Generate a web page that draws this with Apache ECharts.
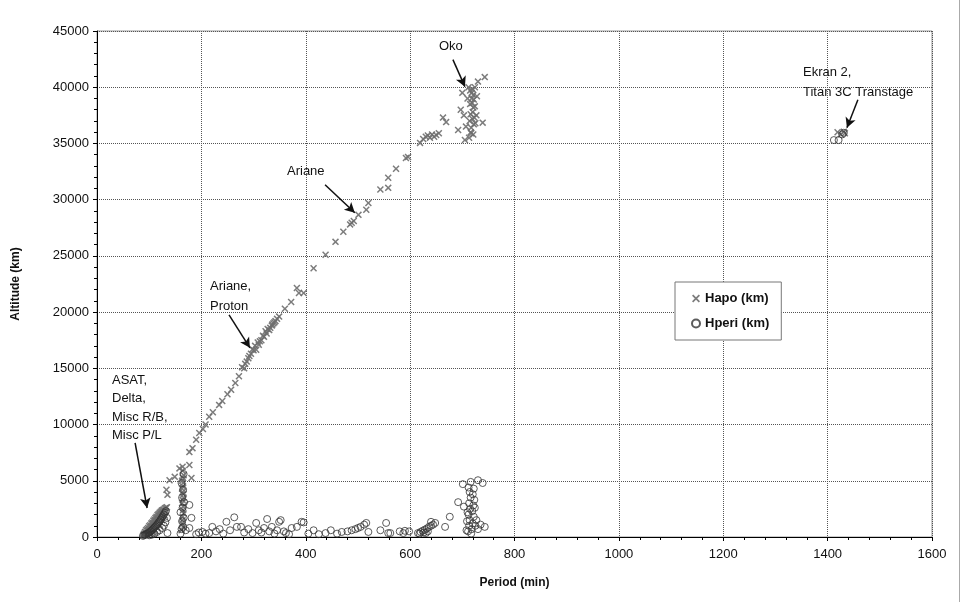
<!DOCTYPE html>
<html>
<head>
<meta charset="utf-8">
<script src="https://cdn.jsdelivr.net/npm/echarts@6/dist/echarts.min.js"></script>
<style>
  html, body { margin: 0; padding: 0; background: #fff; }
  #chart { width: 961px; height: 602px; }
</style>
</head>
<body>
<div id="chart"></div>
<script>
// period (min) / altitude (km) pairs
var hapo = [
    // ASAT, Delta, misc LEO cluster
    [89,150],[90,300],[91,250],[92,450],[93,400],[94,600],[95,350],[96,700],[97,550],[98,800],
    [99,650],[100,950],[101,750],[102,1050],[103,900],[104,1200],[105,1000],[106,1300],[107,1150],
    [108,1450],[109,1250],[110,1550],[111,1400],[112,1700],[113,1500],[114,1800],[115,1650],
    [116,1950],[117,1750],[118,2050],[119,1900],[120,2150],[121,2000],[122,2250],[123,2100],
    [124,2350],[125,2200],[126,2400],[128,2450],[130,2550],[132,2600],[134,2650],
    [105,300],[110,500],[115,800],[120,1100],[125,1500],[130,1900],
    [95,150],[100,300],[108,700],[112,1000],[118,1400],[122,1700],[127,2000],[131,2300],
    // column near 165 min
    [162,600],[163,1200],[164,1800],[165,2400],[163,3000],[166,3500],[164,4000],[165,4500],
    [163,5000],[166,5500],[164,5900],[165,900],[164,1500],[166,2100],[165,2700],[164,3300],
    [166,3800],[163,4300],[165,4800],[164,5300],
    // transfer orbits
    [133,4200],[135,3750],[139,5050],[149,5350],[158,6100],[164,6250],[177,6400],[181,5250],
    [177,7550],[183,7900],[190,8650],[196,9250],[203,9600],[208,10000],[215,10700],[222,11100],
    [234,11750],[240,12100],[250,12700],[257,13100],[265,13700],[272,14300],[278,15100],
    [284,15400],[290,15900],[295,16300],[300,16600],[305,16650],[310,17100],[315,17500],
    [320,17800],[325,18100],[330,18400],[335,18800],[338,19000],[342,19200],[345,19400],
    [349,19600],[282,15000],[287,15600],[292,16100],[298,16700],[303,17000],[308,17300],
    [312,17400],[318,17900],[323,18300],[327,18500],[332,18600],[336,18900],[340,19100],
    [360,20300],[372,20900],[383,22150],[387,21700],[396,21700],[415,23900],[438,25100],
    [457,26250],[472,27150],[485,27800],[488,27950],[492,28100],[501,28650],[516,29100],
    [520,29700],[543,30900],[558,31050],[558,31950],[573,32750],[592,33700],[596,33800],
    [619,35050],[625,35400],[630,35600],[634,35700],[638,35500],[642,35800],[646,35600],
    [650,35750],[655,35900],
    // Oko
    [663,37300],[669,36900],[692,36200],[697,38000],[700,39500],[703,37500],[705,35300],
    [707,36500],[710,39000],[712,40000],[714,37000],[715,38500],[716,36000],[718,39500],
    [720,37800],[721,35800],[722,38900],[724,40000],[725,36800],[727,37500],[730,40500],
    [739,36850],[743,40900],[728,39200],[713,35500],
    [717,36400],[719,37200],[721,38200],[718,39000],[720,39800],[722,36700],[716,37600],
    [719,38600],[723,37300],[717,35900],[721,39300],[715,39700],[724,38300],
    // Ekran 2, Titan 3C Transtage
    [1419,36000],[1425,35800],[1431,36050],[1433,35900]
];

var hperi = [
    [88,100],[90,150],[92,200],[94,250],[96,300],[98,350],[100,400],[102,500],[104,550],
    [106,650],[108,750],[110,850],[112,950],[114,1050],[116,1150],[118,1300],[120,1400],
    [122,1550],[124,1700],[126,1850],[128,2000],[130,2150],[132,2300],[100,150],[105,200],
    [110,300],[115,450],[120,600],[125,800],[128,1000],[131,1300],[134,1700],[135,350],
    [160,300],[162,700],[165,900],[163,1400],[166,1700],[160,2200],[164,2600],[167,3100],
    [163,3500],[165,4200],[162,4800],[166,5600],[177,2850],[181,1700],[177,800],[170,600],
    [190,250],[195,400],[202,450],[208,300],[215,350],[221,900],[228,500],[235,700],[242,300],
    [248,1350],[255,600],[263,1750],[268,900],[276,900],[282,400],[290,700],[298,350],
    [305,1250],[310,600],[315,400],[320,800],[326,1600],[330,500],[335,900],[340,300],
    [345,600],[349,1350],[352,1500],[358,500],[362,350],[368,250],[373,800],[383,900],
    [392,1350],[396,1300],[405,300],[415,600],[425,250],[438,350],[448,600],[460,300],
    [469,450],[480,500],[488,600],[495,700],[500,800],[505,900],[512,1100],[516,1250],
    [520,450],[543,600],[554,1250],[558,350],[562,350],[580,500],[587,350],[590,550],[598,500],
    [615,350],[620,450],[624,550],[628,650],[632,750],[636,900],[640,1000],[644,1100],
    [648,1250],[640,1350],[618,300],[626,400],[634,500],[630,350],[667,900],[676,1800],
    [692,3100],[701,4700],[716,4900],[730,5050],[739,4800],[724,2600],[743,900],[711,500],
    [713,1000],[714,1500],[712,2000],[715,2500],[713,3000],[716,3500],[714,4000],[712,4400],
    [718,700],[720,1200],[722,1800],[719,2300],[721,2800],[723,3300],[720,3800],[722,4300],
    [708,600],[709,1400],[710,2200],[717,300],[725,1000],[727,1500],[703,2700],[730,700],
    [735,1100],
    [1412,35300],[1421,35300],[1431,35950],[1428,35800]
];

// annotation arrows: [from, to] in data units
var arrows = [
    [[682,42450],[705,40050]],
    [[1458,38890],[1437,36400]],
    [[437,31330],[494,28840]],
    [[253,19760],[293,16820]],
    [[73,8370],[96,2580]]
];

var font = 'Liberation Sans, Arial, sans-serif';
var crossPath = 'path://M0,1.5L1.5,0L5,3.5L8.5,0L10,1.5L6.5,5L10,8.5L8.5,10L5,6.5L1.5,10L0,8.5L3.5,5Z';

var myChart = echarts.init(document.getElementById('chart'));
myChart.setOption({
    animation: false,
    backgroundColor: '#fff',
    textStyle: { fontFamily: font },
    grid: {
        left: 97, right: 29, top: 31, bottom: 65,
        show: true,
        borderColor: '#999',
        borderWidth: 1
    },
    legend: {
        orient: 'vertical',
        left: 675,
        top: 282,
        padding: [10, 12, 10, 16],
        itemGap: 12,
        itemWidth: 8,
        itemHeight: 8,
        borderColor: '#777',
        borderWidth: 1,
        backgroundColor: '#fff',
        textStyle: { fontSize: 13, fontWeight: 'bold', color: '#111', fontFamily: font },
        data: ['Hapo (km)', 'Hperi (km)']
    },
    xAxis: {
        type: 'value',
        min: 0, max: 1600, interval: 200,
        name: 'Period (min)',
        nameLocation: 'middle',
        nameGap: 40,
        nameTextStyle: { fontSize: 12, fontWeight: 'bold', color: '#111' },
        axisLine: { lineStyle: { color: '#000', width: 1 } },
        axisTick: { length: 4, lineStyle: { color: '#000' } },
        minorTick: { show: true, splitNumber: 5, length: 3, lineStyle: { color: '#000' } },
        axisLabel: { fontSize: 13, color: '#111', margin: 11, formatter: function (v) { return String(v); } },
        splitLine: { show: true, lineStyle: { type: 'dotted', color: '#555', width: 1 } }
    },
    yAxis: {
        type: 'value',
        min: 0, max: 45000, interval: 5000,
        name: 'Altitude (km)',
        nameLocation: 'middle',
        nameGap: 75,
        nameTextStyle: { fontSize: 12, fontWeight: 'bold', color: '#111' },
        axisLine: { show: true, lineStyle: { color: '#000', width: 1 } },
        axisTick: { show: true, length: 4, lineStyle: { color: '#000' } },
        minorTick: { show: true, splitNumber: 5, length: 3, lineStyle: { color: '#000' } },
        axisLabel: { fontSize: 13, color: '#111', margin: 8, formatter: function (v) { return String(v); } },
        splitLine: { show: true, lineStyle: { type: 'dotted', color: '#555', width: 1 } }
    },
    series: [{
        name: 'Hapo (km)',
        type: 'scatter',
        symbol: crossPath,
        symbolSize: 7,
        itemStyle: { color: '#6e6e6e', opacity: 0.9 },
        data: hapo,
        markLine: {
            silent: true,
            symbol: ['none', 'arrow'],
            symbolSize: [8, 10],
            label: { show: false },
            lineStyle: { color: '#111', width: 1.5, type: 'solid' },
            data: arrows.map(function (a) {
                return [{ coord: a[0] }, { coord: a[1] }];
            })
        }
    }, {
        name: 'Hperi (km)',
        type: 'scatter',
        symbol: 'circle',
        symbolSize: 7,
        itemStyle: { color: 'rgba(255,255,255,0)', borderColor: '#333', borderWidth: 1 },
        data: hperi
    }],
    graphic: [
        { type: 'line', shape: { x1: 959.5, y1: 0, x2: 959.5, y2: 602 }, style: { stroke: '#aaa', lineWidth: 1 } },
        { type: 'text', left: 439, top: 40, style: { text: 'Oko', font: '13px ' + font, fill: '#111' } },
        { type: 'text', left: 803, top: 62, style: { text: 'Ekran 2,\nTitan 3C Transtage', font: '13px ' + font, fill: '#111', lineHeight: 20 } },
        { type: 'text', left: 287, top: 165, style: { text: 'Ariane', font: '13px ' + font, fill: '#111' } },
        { type: 'text', left: 210, top: 276, style: { text: 'Ariane,\nProton', font: '13px ' + font, fill: '#111', lineHeight: 20 } },
        { type: 'text', left: 112, top: 371, style: { text: 'ASAT,\nDelta,\nMisc R/B,\nMisc P/L', font: '13px ' + font, fill: '#111', lineHeight: 18.5 } }
    ]
});
</script>
</body>
</html>
